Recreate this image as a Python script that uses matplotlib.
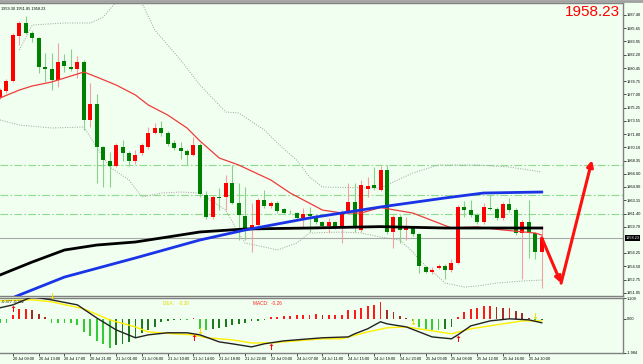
import matplotlib
matplotlib.use("Agg")
import matplotlib.pyplot as plt
import matplotlib.transforms as mtransforms
import numpy as np

plt.rcParams["font.family"] = ["Liberation Sans", "DejaVu Sans"]

# hourly candles (XAUUSD H1)
opens = [1976.67, 1977.45, 1978.76, 1984.65, 1986.35, 1985.04, 1984.39, 1980.59, 1980.33, 1978.89,
         1981.38, 1980.59, 1980.33, 1981.25, 1973.66, 1975.75, 1970.12, 1968.29, 1967.63, 1970.12,
         1969.34, 1968.29, 1969.34, 1970.12, 1971.95, 1972.61, 1971.95, 1970.64, 1969.99, 1969.60,
         1969.07, 1970.38, 1963.84, 1960.96, 1963.58, 1963.58, 1965.41, 1962.79, 1961.09, 1959.39,
         1959.91, 1963.18, 1962.40, 1962.79, 1962.00, 1961.65, 1961.48, 1960.83, 1961.35, 1961.09,
         1960.30, 1959.78, 1960.30, 1959.65, 1961.48, 1962.92, 1959.26, 1964.60, 1965.15, 1964.49,
         1967.11, 1958.99, 1960.96, 1959.26, 1959.52, 1958.73, 1954.41, 1953.76, 1954.28, 1954.54,
         1954.02, 1954.94, 1962.27, 1961.87, 1961.22, 1960.30, 1962.14, 1962.00, 1960.83, 1962.66,
         1961.87, 1958.86, 1960.30, 1958.86, 1956.38]
highs = [1977.90, 1979.00, 1985.04, 1986.60, 1987.27, 1985.31, 1984.50, 1982.43, 1982.43, 1983.73,
         1982.30, 1982.95, 1982.03, 1981.50, 1978.50, 1977.06, 1970.30, 1969.47, 1970.64, 1971.04,
         1969.60, 1969.73, 1970.60, 1972.74, 1973.26, 1973.50, 1972.20, 1971.00, 1970.80, 1969.80,
         1971.43, 1970.60, 1964.30, 1963.90, 1964.75, 1966.46, 1967.77, 1965.41, 1964.88, 1962.79,
         1963.50, 1964.49, 1963.00, 1963.00, 1962.20, 1961.90, 1961.60, 1962.14, 1962.27, 1961.30,
         1960.50, 1960.83, 1960.50, 1961.87, 1965.41, 1965.41, 1965.80, 1966.20, 1967.50, 1967.63,
         1967.77, 1961.20, 1961.20, 1960.96, 1959.80, 1958.90, 1954.60, 1954.41, 1954.80, 1954.80,
         1955.46, 1962.50, 1963.05, 1963.18, 1961.50, 1962.79, 1963.84, 1962.30, 1962.92, 1963.45,
         1962.10, 1960.60, 1963.18, 1959.00, 1959.80]
lows = [1976.40, 1977.20, 1978.60, 1983.47, 1984.90, 1983.87, 1979.81, 1978.63, 1977.58, 1977.97,
        1979.90, 1980.07, 1979.15, 1972.35, 1972.74, 1965.41, 1964.88, 1964.88, 1967.50, 1968.29,
        1967.63, 1967.90, 1969.10, 1969.90, 1971.80, 1971.60, 1970.30, 1969.70, 1968.50, 1967.77,
        1968.90, 1963.60, 1960.70, 1960.70, 1961.87, 1961.87, 1962.60, 1957.95, 1957.90, 1956.38,
        1959.60, 1962.20, 1962.20, 1961.50, 1961.30, 1961.30, 1960.60, 1959.65, 1958.99, 1960.10,
        1959.50, 1958.86, 1959.40, 1957.55, 1961.30, 1958.99, 1959.00, 1963.60, 1964.50, 1964.30,
        1958.70, 1956.90, 1957.55, 1958.00, 1958.50, 1953.63, 1953.60, 1953.50, 1954.10, 1952.84,
        1953.80, 1954.80, 1960.96, 1961.00, 1960.10, 1960.10, 1961.87, 1960.60, 1960.60, 1961.60,
        1958.60, 1952.84, 1955.59, 1955.50, 1951.66]
closes = [1977.58, 1978.76, 1984.78, 1986.35, 1985.04, 1984.39, 1980.59, 1980.33, 1978.89, 1981.25,
          1980.72, 1980.33, 1981.25, 1973.66, 1975.75, 1970.12, 1968.42, 1967.63, 1970.38, 1969.34,
          1968.29, 1969.07, 1970.38, 1971.95, 1972.61, 1971.95, 1970.51, 1969.99, 1969.60, 1969.07,
          1970.38, 1963.97, 1960.96, 1963.58, 1963.45, 1965.41, 1962.79, 1961.22, 1959.52, 1959.91,
          1963.18, 1962.40, 1962.79, 1961.74, 1961.48, 1961.55, 1960.83, 1961.35, 1961.09, 1960.30,
          1959.78, 1960.30, 1959.65, 1961.48, 1962.92, 1959.65, 1965.15, 1965.00, 1964.75, 1967.11,
          1958.99, 1960.96, 1959.26, 1959.65, 1958.73, 1954.54, 1953.76, 1954.02, 1954.54, 1954.02,
          1954.94, 1962.27, 1961.87, 1961.22, 1960.30, 1962.27, 1962.00, 1960.83, 1962.66, 1961.87,
          1958.86, 1960.30, 1958.86, 1956.38, 1958.23]

# moving averages / bands, read at selected bars
red_x = [0, 3, 5, 8, 10, 13, 15, 18, 21, 23, 26, 29, 31, 34, 37, 42, 45, 50, 53, 56, 59, 64, 70, 74, 78, 83, 84]
red_y = [1976.54, 1977.58, 1978.11, 1978.63, 1979.15, 1979.94, 1979.28, 1978.24, 1976.93, 1975.62,
         1974.31, 1972.61, 1970.91, 1968.68, 1967.77, 1965.80, 1964.10, 1961.87, 1961.48, 1961.48,
         1962.20, 1961.48, 1959.52, 1959.65, 1959.26, 1958.86, 1958.60]
blue_x = [0, 3, 10, 21, 31, 38, 48, 59, 69, 75, 84]
blue_y = [1949.7, 1950.75, 1953.10, 1955.60, 1957.95, 1959.26, 1960.83, 1962.27, 1963.45, 1964.10, 1964.23]
black_x = [0, 5, 10, 15, 21, 26, 31, 38, 48, 59, 69, 84]
black_y = [1953.37, 1955.07, 1956.64, 1957.29, 1957.69, 1958.34, 1959.00, 1959.39, 1959.52, 1959.70, 1959.52, 1959.52]
upper_x = [3, 5, 10, 14, 16, 18, 22, 24, 28, 31, 35, 37, 41, 43, 46, 48, 50, 59, 64, 68, 74, 79, 84]
upper_y = [1982.82, 1986.09, 1986.35, 1986.35, 1987.14, 1989.10, 1988.97, 1985.44, 1981.51, 1978.24,
           1974.70, 1974.57, 1972.35, 1970.64, 1968.42, 1966.19, 1964.88, 1964.75, 1966.72, 1967.77,
           1967.77, 1967.50, 1966.85]
lower_x = [0, 3, 8, 13, 17, 20, 22, 25, 28, 31, 35, 37, 38, 41, 43, 46, 48, 53, 56, 59, 62, 64, 65,
           68, 69, 72, 74, 77, 81, 84]
lower_y = [1973.66, 1973.00, 1972.61, 1972.74, 1967.50, 1965.80, 1963.58, 1964.10, 1964.23, 1964.10,
           1961.87, 1958.86, 1957.55, 1957.03, 1956.64, 1957.55, 1958.86, 1958.99, 1958.86, 1958.34,
           1957.95, 1956.38, 1955.33, 1953.11, 1952.32, 1951.79, 1951.92, 1952.32, 1952.58, 1952.71]
levels = [1967.77, 1963.84, 1961.35]
last_price = 1958.23

# forecast arrow
fc_x = [84, 87, 91.8]
fc_y = [1958.23, 1952.3, 1968.4]

# MACD panel
macd_hist = [-0.26, -0.26, 0.24, 0.57, 0.57, 0.49, 0.30, 0.08, -0.22, -0.22,
             -0.26, -0.26, -0.36, -0.75, -1.0, -1.28, -1.48, -1.70, -1.54, -1.44,
             -1.34, -1.05, -0.85, -0.65, -0.45, -0.16, -0.10, -0.08, -0.06, -0.06,
             0.04, -0.60, -0.65, -0.60, -0.55, -0.45, -0.35, -0.30, -0.25, -0.15,
             -0.10, -0.05, 0.10, 0.10, 0.14, 0.18, 0.24, 0.24, 0.24, 0.28,
             0.24, 0.24, 0.24, 0.24, 0.49, 0.49, 0.63, 0.73, 0.83, 0.97,
             0.53, 0.37, 0.14, 0.04, -0.10, -0.45, -0.61, -0.65, -0.65, -0.61,
             -0.45, 0.10, 0.37, 0.57, 0.63, 0.73, 0.77, 0.69, 0.63, 0.63,
             0.43, 0.34, 0.04, -0.10, -0.06]
dif_x = [0, 2, 5, 8, 12, 15, 18, 21, 23, 26, 29, 31, 34, 36, 39, 41, 44, 46, 50, 54, 55, 57, 59, 60,
         63, 67, 70, 71, 73, 76, 79, 82, 84]
dif_y = [0.64, 0.81, 1.28, 1.10, 0.81, 0.05, -0.64, -1.10, -0.93, -0.81, -0.81, -0.93, -1.34, -1.45,
         -1.63, -1.45, -1.28, -1.22, -1.10, -1.05, -0.87, -0.58, -0.17, -0.29, -0.47, -1.05, -1.16,
         -0.93, -0.41, -0.12, 0.0, -0.06, -0.23]
dea_x = [0, 5, 8, 13, 17, 21, 23, 27, 30, 32, 36, 39, 42, 46, 50, 53, 57, 60, 63, 66, 70, 73, 78, 81, 84]
dea_y = [1.05, 1.10, 0.99, 0.58, -0.06, -0.47, -0.76, -0.87, -0.93, -1.10, -1.22, -1.40, -1.40, -1.28,
         -1.16, -1.16, -0.76, -0.52, -0.47, -0.64, -0.87, -0.58, -0.29, -0.12, -0.12]
buy_x = [2, 30, 42, 71]
buy_y = [0.81, -0.90, -1.40, -0.93]
sell_x = [8, 31, 64, 83]
sell_y = [1.05, -0.98, -0.50, -0.15]

date_labels = ["20 Jul 09:00", "20 Jul 13:00", "20 Jul 17:00", "20 Jul 21:00", "21 Jul 01:00",
               "21 Jul 06:00", "21 Jul 10:00", "21 Jul 14:00", "21 Jul 18:00", "21 Jul 22:00",
               "22 Jul 03:00", "24 Jul 07:00", "24 Jul 11:00", "24 Jul 15:00", "24 Jul 19:00",
               "24 Jul 23:00", "25 Jul 03:00", "25 Jul 08:00", "25 Jul 12:00", "25 Jul 16:00",
               "25 Jul 20:00"]
price_ticks = [1987.40, 1985.65, 1983.95, 1982.20, 1980.45, 1978.75, 1977.00, 1975.25, 1973.55,
               1971.80, 1970.10, 1968.35, 1966.60, 1964.90, 1963.15, 1961.40, 1959.70, 1956.25,
               1954.50, 1952.75, 1951.05]

BG = "#F0FFF0"
SMALL = 2.8
fig = plt.figure(figsize=(6.43, 3.64), dpi=100, facecolor=BG)
ax = fig.add_axes([0, 68 / 364, 623 / 643, 293 / 364], facecolor=BG)
ax2 = fig.add_axes([0, 11 / 364, 623 / 643, 55 / 364], facecolor=BG)

# candles
idx = np.arange(len(opens))
o = np.array(opens)
c = np.array(closes)
hi = np.array(highs)
lo = np.array(lows)
up = c >= o
for mask, body, wick in [(up, "#FF0000", "#F2A0A0"), (~up, "#008000", "#8CCF8C")]:
    ax.vlines(idx[mask], lo[mask], hi[mask], color=wick, lw=0.8, zorder=3)
    ax.bar(idx[mask], np.maximum(np.abs(c - o), 0.12)[mask], bottom=np.minimum(o, c)[mask],
           width=0.62, color=body, linewidth=0, zorder=4)

for lv in levels:
    ax.axhline(lv, color="#8EDB8E", lw=0.8, ls=(0, (7, 2, 1.5, 2)), zorder=1)
ax.axhline(last_price, color="#A8A8A8", lw=0.8, zorder=1)

ax.plot(upper_x, upper_y, color="#A0A0A0", lw=0.7, ls=(0, (1, 1.5)), zorder=2)
ax.plot(lower_x, lower_y, color="#A0A0A0", lw=0.7, ls=(0, (1, 1.5)), zorder=2)
ax.plot(red_x, red_y, color="#EE3B3B", lw=0.9, zorder=5)
ax.plot(black_x, black_y, color="black", lw=2.0, zorder=6)
ax.plot(blue_x, blue_y, color="#1A33E6", lw=2.0, zorder=6)

# forecast arrows
arrow_kw = dict(arrowstyle="-|>", color="#FF1010", lw=2.2, mutation_scale=9, shrinkA=0, shrinkB=0)
ax.annotate("", xy=(fc_x[1], fc_y[1]), xytext=(fc_x[0], fc_y[0]), arrowprops=arrow_kw, zorder=7)
ax.annotate("", xy=(fc_x[2], fc_y[2]), xytext=(fc_x[1], fc_y[1]), arrowprops=arrow_kw, zorder=7)

ax.set_xlim(0, 96.6)
ax.set_ylim(1950.62, 1988.97)
ax.set_xticks([])
ax.yaxis.tick_right()
ax.set_yticks(price_ticks)
ax.set_yticklabels(["%.2f" % p for p in price_ticks])
ax.tick_params(axis="y", labelsize=SMALL, length=2, width=0.5, pad=1, colors="black")
ax.spines["left"].set_visible(False)
for s in ["top", "right", "bottom"]:
    ax.spines[s].set_color("#808080")
    ax.spines[s].set_linewidth(1.0)

trans = mtransforms.blended_transform_factory(ax.transAxes, ax.transData)
ax.text(1.004, last_price, "%.2f" % last_price, transform=trans, ha="left", va="center",
        fontsize=SMALL, color="white", bbox=dict(facecolor="black", edgecolor="none", pad=0.6))
ax.text(0.002, 0.985, "1959.30 1951.85 1958.23", transform=ax.transAxes, ha="left", va="top",
        fontsize=SMALL, color="black")
fig.text(620 / 643, 1 - 5 / 364, "%.2f" % last_price, ha="right", va="top", color="#FF0000",
         fontsize=11)

# MACD
hist = np.array(macd_hist)
prev = np.concatenate([[hist[0]], hist[:-1]])
cols = []
for h, p in zip(hist, prev):
    if h >= 0:
        cols.append("#FF1A1A" if h >= p else "#A52A2A")
    else:
        cols.append("#33CC33" if h <= p else "#1F7A1F")
ax2.bar(idx, hist, width=0.28, color=cols, linewidth=0, zorder=2)
ax2.plot(dea_x, dea_y, color="#FFEE00", lw=1.0, zorder=3)
ax2.plot(dif_x, dif_y, color="#222222", lw=1.0, zorder=4)
for bx, by in zip(buy_x, buy_y):
    ax2.text(bx, by, "\u2191", color="#FF0000", fontsize=6, fontweight="bold", ha="center",
             va="top", zorder=5, family="DejaVu Sans")
for sx, sy in zip(sell_x, sell_y):
    ax2.text(sx, sy, "\u2193", color="#F0E000", fontsize=6, fontweight="bold", ha="center",
             va="bottom", zorder=5, family="DejaVu Sans")
ax2.text(0.002, 0.97, "-0.377 -0.382", transform=ax2.transAxes, fontsize=SMALL, va="top")
ax2.text(163 / 623, 0.95, "DEA:   -0.38", transform=ax2.transAxes, fontsize=3.4, va="top",
         color="#E8D800")
ax2.text(253 / 623, 0.95, "MACD:  -0.26", transform=ax2.transAxes, fontsize=3.4, va="top",
         color="#FF2020")

ax2.set_xlim(0, 96.6)
ax2.set_ylim(-1.984, 1.209)
ax2.yaxis.tick_right()
ax2.set_yticks([1.209, 0.0, -1.984])
ax2.set_yticklabels(["1.209", "0.00", "-1.984"])
ax2.tick_params(axis="y", labelsize=SMALL, length=2, width=0.5, pad=1)
tick_pos = [2 + 4 * k for k in range(len(date_labels))]
ax2.set_xticks(tick_pos)
ax2.set_xticklabels(date_labels, ha="left")
ax2.tick_params(axis="x", labelsize=SMALL, length=2, width=0.5, pad=1)
ax2.spines["left"].set_visible(False)
for s in ["top", "right", "bottom"]:
    ax2.spines[s].set_color("#808080")
    ax2.spines[s].set_linewidth(1.0)

fig.add_artist(plt.Line2D([0, 1], [1 - 1 / 364, 1 - 1 / 364], color="#A0A0A0", lw=2))

fig.savefig("out.png", dpi=100, facecolor=BG)
